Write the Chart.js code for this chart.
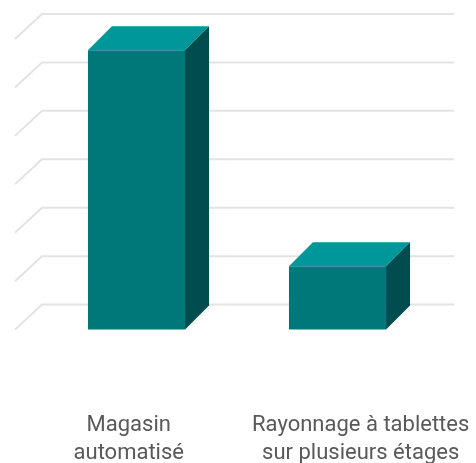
<!DOCTYPE html>
<html>
<head>
<meta charset="utf-8">
<script src="https://cdn.jsdelivr.net/npm/chart.js@4.4.1/dist/chart.umd.min.js"></script>
<style>
  html, body { margin: 0; padding: 0; background: #fff; }
  #wrap { width: 476px; height: 463px; }
</style>
</head>
<body>
<div id="wrap"><canvas id="chart" width="476" height="463"></canvas></div>
<script>
// categories and values (value axis has no visible ticks, 0..6 scale)
const categories = [['Magasin', 'automatisé'], ['Rayonnage à tablettes', 'sur plusieurs étages']]
const values = [5.77, 1.31]
const yTicks = [0, 1, 2, 3, 4, 5, 6]
// the category labels sit on a finer bottom axis, not right under the column centres
const labelSlotCount = 27
const labelSlots = [6, 21]
const labelAxis = Array.from({ length: labelSlotCount }, (_, i) => {
    const k = labelSlots.indexOf(i)
    return k >= 0 ? categories[k] : ''
})

const FRONT = '#00787a'
const TOP = '#00979a'
const SIDE = '#004c4f'
const GRID = '#e3e3e3'
const DEPTH = 24

// back-wall gridlines with the little diagonal floor stub on the left
const wallGrid = {
    id: 'wallGrid',
    beforeDatasetsDraw(chart) {
        const { ctx, chartArea, scales } = chart
        const y = scales.y
        ctx.save()
        ctx.strokeStyle = GRID
        ctx.lineWidth = 2
        yTicks.forEach(v => {
            const py = y.getPixelForValue(v)
            ctx.beginPath()
            ctx.moveTo(chartArea.left - 21, py)
            ctx.lineTo(chartArea.left + 6, py - 25)
            ctx.lineTo(chartArea.right + 16, py - 25)
            ctx.stroke()
        })
        ctx.restore()
    }
}

// top and side faces of each column, built from the bar elements
const columns3d = {
    id: 'columns3d',
    afterDatasetsDraw(chart) {
        const { ctx } = chart
        chart.getDatasetMeta(0).data.forEach(bar => {
            const { x, y, base, width } = bar.getProps(['x', 'y', 'base', 'width'], true)
            const l = x - width / 2
            const r = x + width / 2
            ctx.save()
            ctx.fillStyle = TOP
            ctx.beginPath()
            ctx.moveTo(l, y)
            ctx.lineTo(l + DEPTH, y - DEPTH)
            ctx.lineTo(r + DEPTH, y - DEPTH)
            ctx.lineTo(r, y)
            ctx.closePath()
            ctx.fill()
            ctx.fillStyle = SIDE
            ctx.beginPath()
            ctx.moveTo(r, y)
            ctx.lineTo(r + DEPTH, y - DEPTH)
            ctx.lineTo(r + DEPTH, base - DEPTH)
            ctx.lineTo(r, base)
            ctx.closePath()
            ctx.fill()
            ctx.restore()
        })
    }
}

new Chart(document.getElementById('chart'), {
    type: 'bar',
    data: {
        labels: categories,
        datasets: [{
            data: values,
            backgroundColor: FRONT,
            borderWidth: 0,
            barPercentage: 0.483,
            categoryPercentage: 1
        }]
    },
    options: {
        responsive: false,
        animation: false,
        devicePixelRatio: 1,
        layout: { padding: { left: 36, right: 38, top: 39, bottom: -8 } },
        plugins: { legend: { display: false }, tooltip: { enabled: false } },
        scales: {
            x: { display: false, offset: true },
            xl: {
                type: 'category',
                labels: labelAxis,
                position: 'bottom',
                offset: false,
                grid: { display: false, drawTicks: false },
                border: { display: false },
                ticks: {
                    autoSkip: false,
                    maxRotation: 0,
                    padding: 4,
                    color: '#595959',
                    font: { family: 'Roboto', size: 22, lineHeight: 1.27 }
                }
            },
            y: {
                display: false,
                min: -1.6,
                max: 6,
                ticks: { stepSize: 1 }
            }
        }
    },
    plugins: [wallGrid, columns3d]
})
</script>
</body>
</html>
